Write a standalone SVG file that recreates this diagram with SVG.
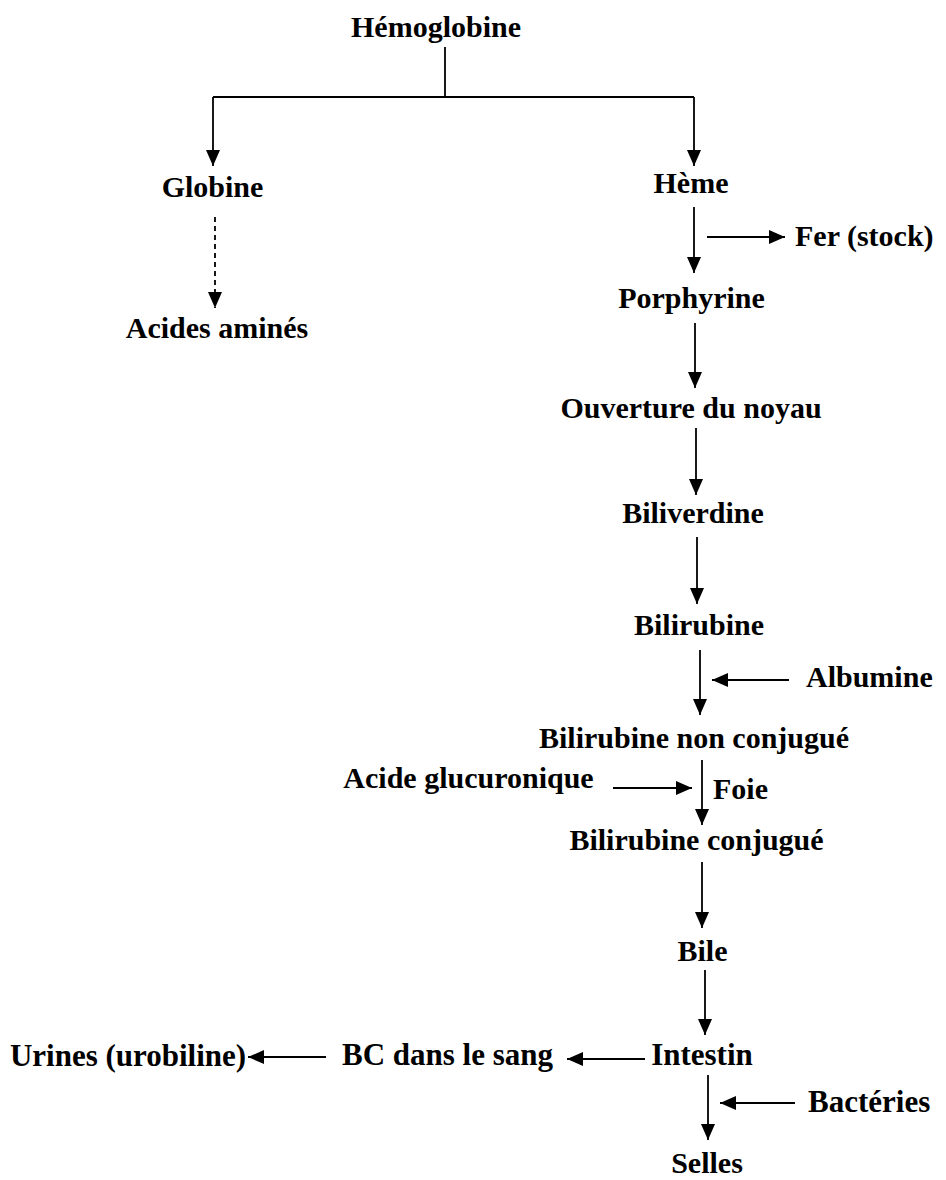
<svg xmlns="http://www.w3.org/2000/svg" width="946" height="1180" viewBox="0 0 946 1180">
<style>
text{font-family:"Liberation Serif","Times New Roman",serif;font-weight:bold;font-size:30px;fill:#000}
.m{text-anchor:middle}
.b{font-size:31px}
.c path{fill:none;stroke:#000;stroke-width:1.8}
.c .a{marker-end:url(#ah)}
.c .d{stroke-dasharray:5 4}
</style>
<defs>
<marker id="ah" markerUnits="userSpaceOnUse" markerWidth="16" markerHeight="14" viewBox="0 0 16 14" refX="16" refY="7" orient="auto">
<path d="M0,0 L16,7 L0,14 Z" fill="#000"/>
</marker>
</defs>
<rect width="946" height="1180" fill="#fff"/>
<g class="c" id="connectors">
<path d="M445,47 V97 M213,97 H694"/>
<path class="a" d="M213,97 V166"/>
<path class="a" d="M694,97 V166"/>
<path class="a d" d="M215,217 V308"/>
<path class="a" d="M694,207 V273"/>
<path class="a" d="M707,237 H785"/>
<path class="a" d="M695,323 V388"/>
<path class="a" d="M696,428 V495"/>
<path class="a" d="M697,537 V604"/>
<path class="a" d="M700,650 V715"/>
<path class="a" d="M789,680 H712"/>
<path class="a" d="M702,760 V825"/>
<path class="a" d="M613,788 H692"/>
<path class="a" d="M702,862 V928"/>
<path class="a" d="M705,970 V1035"/>
<path class="a" d="M645,1059 H567"/>
<path class="a" d="M326,1057 H248"/>
<path class="a" d="M708,1075 V1140"/>
<path class="a" d="M795,1103 H720"/>
</g>
<g id="hemoglobine"><text class="m" x="436" y="37">Hémoglobine</text></g>
<g id="globine"><text class="m" x="212.5" y="197">Globine</text></g>
<g id="heme"><text class="m" x="691" y="193">Hème</text></g>
<g id="acides"><text class="m" x="217" y="338">Acides aminés</text></g>
<g id="fer"><text x="795" y="246">Fer (stock)</text></g>
<g id="porphyrine"><text class="m" x="691.5" y="308">Porphyrine</text></g>
<g id="ouverture"><text class="m" x="691" y="418">Ouverture du noyau</text></g>
<g id="biliverdine"><text class="m" x="693" y="523">Biliverdine</text></g>
<g id="bilirubine"><text class="m" x="699" y="635">Bilirubine</text></g>
<g id="albumine"><text x="806" y="687">Albumine</text></g>
<g id="bnc"><text class="m" x="694" y="748">Bilirubine non conjugué</text></g>
<g id="foie"><text x="713" y="799">Foie</text></g>
<g id="acide-gluc"><text class="m" x="468.5" y="788">Acide glucuronique</text></g>
<g id="bc"><text class="m" x="696.5" y="850">Bilirubine conjugué</text></g>
<g id="bile"><text class="m" x="702.5" y="961">Bile</text></g>
<g id="intestin"><text class="m b" x="702" y="1065">Intestin</text></g>
<g id="bc-sang"><text class="m b" x="447.5" y="1065">BC dans le sang</text></g>
<g id="urines"><text class="m b" x="128" y="1066">Urines (urobiline)</text></g>
<g id="bacteries"><text class="b" x="808" y="1112">Bactéries</text></g>
<g id="selles"><text class="m" x="707" y="1173">Selles</text></g>
</svg>
